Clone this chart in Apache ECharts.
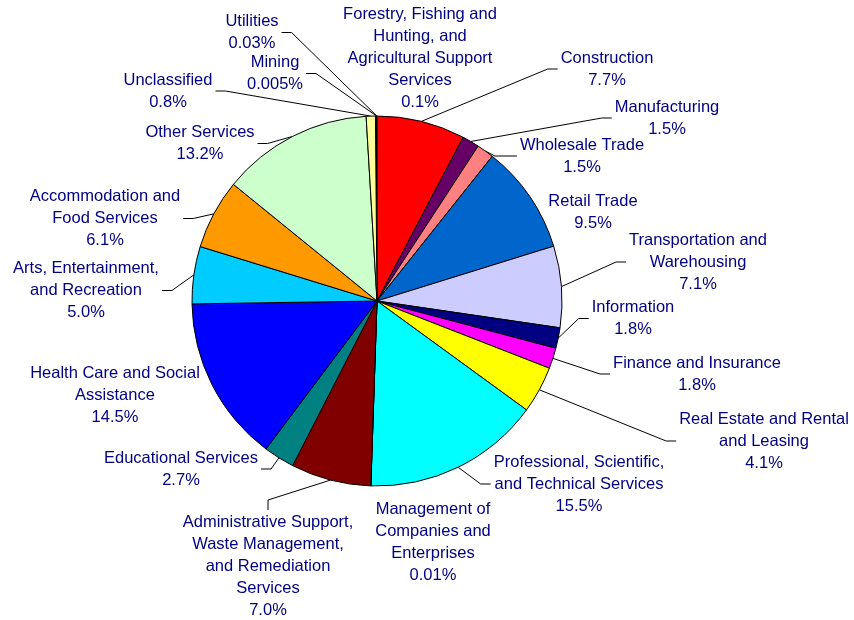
<!DOCTYPE html>
<html><head><meta charset="utf-8">
<script src="https://cdn.jsdelivr.net/npm/echarts@6/dist/echarts.min.js"></script>
<style>html,body{margin:0;padding:0;background:#fff}#c{width:854px;height:620px}</style>
</head><body><div id="c"></div>
<script>
// ---- data ----
const categories = [
  "Forestry, Fishing and\nHunting, and\nAgricultural Support\nServices",
  "Mining",
  "Utilities",
  "Construction",
  "Manufacturing",
  "Wholesale Trade",
  "Retail Trade",
  "Transportation and\nWarehousing",
  "Information",
  "Finance and Insurance",
  "Real Estate and Rental\nand Leasing",
  "Professional, Scientific,\nand Technical Services",
  "Management of\nCompanies and\nEnterprises",
  "Administrative Support,\nWaste Management,\nand Remediation\nServices",
  "Educational Services",
  "Health Care and Social\nAssistance",
  "Arts, Entertainment,\nand Recreation",
  "Accommodation and\nFood Services",
  "Other Services",
  "Unclassified"
];
const shares = [0.1, 0.005, 0.03, 7.7, 1.5, 1.5, 9.5, 7.1, 1.8, 1.8, 4.1, 15.5, 0.01, 7.0, 2.7, 14.5, 5.0, 6.1, 13.2, 0.8];

// ---- styles / layout ----
const sliceColors = ["#9999FF", "#993366", "#FFFFCC", "#FF0000", "#660066", "#FF8080", "#0066CC", "#CCCCFF",
  "#000080", "#FF00FF", "#FFFF00", "#00FFFF", "#800080", "#800000", "#008080", "#0000FF", "#00CCFF",
  "#FF9900", "#CCFFCC", "#FFFF99"];
// [centerX, centerY, leader side, elbow length]
const labelPos = [
  [420, 58.5, 'none', 0],
  [275, 73.5, 'right', 10],
  [252, 32.5, 'right', 10],
  [607, 69, 'left', 10],
  [667, 118, 'left', 10],
  [582, 156, 'left', 22],
  [593, 212, 'none', 0],
  [698, 262, 'left', 10],
  [633, 318.5, 'left', 10],
  [697, 374, 'left', 10],
  [764, 441, 'left', 10],
  [579, 484, 'left', 10],
  [433, 542.5, 'none', 0],
  [268, 566, 'top', 10],
  [181, 469, 'right', 10],
  [115, 395.5, 'none', 0],
  [86, 290.5, 'right', 10],
  [105, 218.5, 'right', 10],
  [200, 143.5, 'right', 10],
  [168, 91, 'right', 10]
];

function fmt(v) { return (v >= 0.1 ? v.toFixed(1) : String(v)) + '%'; }

const total = shares.reduce((a, b) => a + b, 0);
const lead = (shares[0] + shares[1] + shares[2]) / total * 360;

const chart = echarts.init(document.getElementById('c'), null, { renderer: 'canvas' });
chart.setOption({
  animation: false,
  backgroundColor: '#ffffff',
  series: [{
    type: 'pie',
    center: [377, 301],
    radius: 185,
    startAngle: 90 + lead,
    clockwise: true,
    avoidLabelOverlap: false,
    minShowLabelAngle: 0,
    itemStyle: { borderColor: '#000000', borderWidth: 1 },
    emphasis: { disabled: true },
    label: {
      show: true,
      position: 'outside',
      color: '#000080',
      fontFamily: 'Liberation Sans, Arial, sans-serif',
      fontSize: 16.5,
      lineHeight: 22,
      align: 'center',
      formatter: p => p.name + '\n' + fmt(shares[p.dataIndex])
    },
    labelLine: { show: true, lineStyle: { color: '#000000', width: 1 } },
    labelLayout: function (p) {
      const L = labelPos[p.dataIndex];
      const out = { x: L[0], y: L[1], align: 'center', verticalAlign: 'middle' };
      const w = p.labelRect.width, h = p.labelRect.height;
      const e = p.labelLinePoints && p.labelLinePoints[0];
      if (e && L[2] !== 'none') {
        let a, b;
        if (L[2] === 'left') { a = [L[0] - w / 2 - 3, L[1]]; b = [a[0] - L[3], L[1]]; }
        else if (L[2] === 'right') { a = [L[0] + w / 2 + 3, L[1]]; b = [a[0] + L[3], L[1]]; }
        else { a = [L[0], L[1] - h / 2 - 1]; b = [L[0], a[1] - L[3]]; }
        out.labelLinePoints = [e, b, a];
      }
      return out;
    },
    data: categories.map((name, i) => ({
      name: name,
      value: shares[i],
      itemStyle: { color: sliceColors[i] },
      labelLine: { show: labelPos[i][2] !== 'none' }
    }))
  }]
});
</script>
</body></html>
